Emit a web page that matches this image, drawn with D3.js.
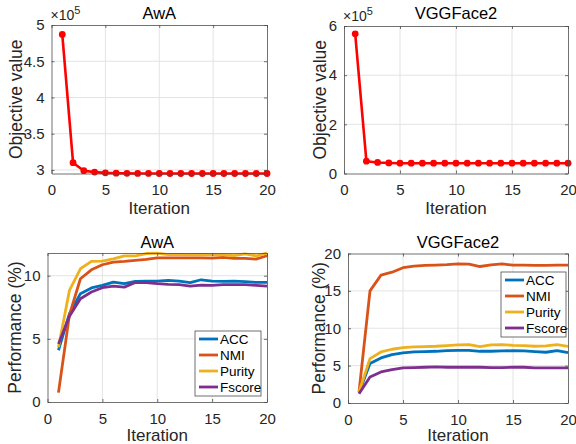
<!DOCTYPE html>
<html>
<head>
<meta charset="utf-8">
<script src="https://cdn.jsdelivr.net/npm/d3@7"></script>
<style>
  body { margin: 0; background: #fff; }
  svg { display: block; font-family: "Liberation Sans", Arial, sans-serif; }
</style>
</head>
<body>
<svg id="fig" width="576" height="444"></svg>
<script>
const iterations = d3.range(1, 21);

// objective values (x1e5)
const objAwA = [4.87, 3.10, 2.99, 2.97, 2.96, 2.955, 2.953, 2.952, 2.952, 2.951, 2.951, 2.951, 2.951, 2.951, 2.951, 2.951, 2.951, 2.951, 2.951, 2.951];
const objVGG = [5.68, 0.50, 0.45, 0.43, 0.42, 0.42, 0.42, 0.42, 0.42, 0.42, 0.42, 0.42, 0.42, 0.42, 0.42, 0.42, 0.42, 0.42, 0.42, 0.42];

// performance (%)
const metricNames = ["ACC", "NMI", "Purity", "Fscore"];
const metricColors = ["#0072BD", "#D95319", "#EDB120", "#7E2F8E"];

const awaACC = [4.1, 7.0, 8.58, 9.03, 9.24, 9.5, 9.37, 9.55, 9.58, 9.58, 9.63, 9.58, 9.45, 9.68, 9.58, 9.55, 9.58, 9.53, 9.47, 9.47];
const awaNMI = [0.74, 6.9, 9.76, 10.47, 10.87, 11.08, 11.13, 11.21, 11.29, 11.42, 11.42, 11.42, 11.42, 11.42, 11.4, 11.45, 11.37, 11.37, 11.32, 11.58];
const awaPurity = [4.34, 8.84, 10.55, 11.13, 11.16, 11.34, 11.58, 11.58, 11.76, 11.79, 11.68, 11.68, 11.66, 11.68, 11.66, 11.66, 11.6, 11.74, 11.58, 11.79];
const awaFscore = [4.6, 6.8, 8.18, 8.71, 9.05, 9.18, 9.1, 9.47, 9.45, 9.37, 9.32, 9.29, 9.18, 9.26, 9.24, 9.29, 9.29, 9.29, 9.24, 9.18];

const vggACC = [1.38, 5.27, 6.03, 6.47, 6.7, 6.83, 6.88, 6.92, 7.0, 7.05, 7.05, 6.92, 6.92, 6.96, 7.0, 6.96, 6.88, 6.79, 7.0, 6.74];
const vggNMI = [1.47, 15.0, 17.1, 17.5, 18.1, 18.3, 18.4, 18.44, 18.5, 18.6, 18.57, 18.26, 18.48, 18.6, 18.44, 18.44, 18.4, 18.4, 18.44, 18.44];
const vggPurity = [1.47, 5.94, 6.83, 7.19, 7.41, 7.5, 7.54, 7.59, 7.68, 7.77, 7.81, 7.54, 7.77, 7.81, 7.72, 7.68, 7.59, 7.63, 7.81, 7.59];
const vggFscore = [1.25, 3.48, 4.15, 4.46, 4.69, 4.73, 4.78, 4.82, 4.78, 4.78, 4.78, 4.78, 4.73, 4.73, 4.78, 4.78, 4.69, 4.69, 4.69, 4.69];

const xTicks = [0, 5, 10, 15, 20];

const svg = d3.select("#fig");
const axisColor = "#4d4d4d";
const gridColor = "#e3e3e3";
const fmt = d3.format("~g");

function drawPanel(p) {
  const x = d3.scaleLinear().domain([0, 20]).range([p.left, p.right]);
  const y = d3.scaleLinear().domain(p.yDomain).range([p.bottom, p.top]);
  const g = svg.append("g");

  // grid
  g.append("g").selectAll("line").data(xTicks.filter(t => t > 0 && t < 20)).enter().append("line")
    .attr("x1", d => x(d)).attr("x2", d => x(d))
    .attr("y1", p.top).attr("y2", p.bottom)
    .attr("stroke", gridColor).attr("stroke-width", 1);
  g.append("g").selectAll("line").data(p.yTicks.filter(t => y(t) > p.top + 1 && y(t) < p.bottom - 1)).enter().append("line")
    .attr("x1", p.left).attr("x2", p.right)
    .attr("y1", d => y(d)).attr("y2", d => y(d))
    .attr("stroke", gridColor).attr("stroke-width", 1);

  // series
  const line = d3.line().x((d, i) => x(iterations[i])).y(d => y(d));
  p.series.forEach(s => {
    g.append("path").datum(s.values)
      .attr("d", line)
      .attr("fill", "none")
      .attr("stroke", s.color)
      .attr("stroke-width", s.width)
      .attr("stroke-linejoin", "round");
    if (s.marker) {
      g.append("g").selectAll("circle").data(s.values).enter().append("circle")
        .attr("cx", (d, i) => x(iterations[i]))
        .attr("cy", d => y(d))
        .attr("r", 3.4)
        .attr("fill", s.color);
    }
  });

  // axes (inward ticks, box)
  const xb = g.append("g").attr("transform", `translate(0,${p.bottom})`)
    .call(d3.axisBottom(x).tickValues(xTicks).tickFormat(fmt).tickSizeInner(-3).tickSizeOuter(0).tickPadding(8));
  g.append("g").attr("transform", `translate(${p.left},0)`)
    .call(d3.axisLeft(y).tickValues(p.yTicks).tickFormat(fmt).tickSizeInner(-3).tickSizeOuter(0).tickPadding(7));
  g.append("g").attr("transform", `translate(0,${p.top})`)
    .call(d3.axisTop(x).tickValues(xTicks).tickSizeInner(-3).tickSizeOuter(0).tickFormat(""));
  g.append("g").attr("transform", `translate(${p.right},0)`)
    .call(d3.axisRight(y).tickValues(p.yTicks).tickSizeInner(-3).tickSizeOuter(0).tickFormat(""));
  g.selectAll(".domain, .tick line").attr("stroke", axisColor).attr("stroke-width", 0.8);
  g.selectAll(".tick text").attr("fill", "#262626").attr("font-size", 15)
    .attr("font-family", "'Liberation Sans', Arial, sans-serif");
  xb.selectAll(".tick text").attr("dy", "0.9em");

  // title and labels
  const cx = (p.left + p.right) / 2;
  g.append("text").attr("x", cx).attr("y", p.titleY).attr("text-anchor", "middle")
    .attr("font-size", 16.5).attr("fill", "#000").text(p.title);
  g.append("text").attr("x", cx).attr("y", p.xLabelY).attr("text-anchor", "middle")
    .attr("font-size", 17).attr("fill", "#262626").text("Iteration");
  g.append("text").attr("transform", `translate(${p.yLabelX},${(p.top + p.bottom) / 2}) rotate(-90)`)
    .attr("text-anchor", "middle").attr("dy", "0.35em")
    .attr("font-size", 17.5).attr("fill", "#262626").text(p.yLabel);

  if (p.exponent) {
    const t = g.append("text").attr("x", p.left - 1).attr("y", p.top - 5)
      .attr("font-size", 14).attr("fill", "#262626");
    t.append("tspan").text("\u00d710");
    t.append("tspan").attr("font-size", 11).attr("dy", -6).text(p.exponent);
  }

  if (p.legend) {
    const L = p.legend;
    const lg = g.append("g");
    lg.append("rect").attr("x", L.x).attr("y", L.y).attr("width", L.w).attr("height", L.h)
      .attr("fill", "#fff").attr("stroke", axisColor).attr("stroke-width", 0.8);
    p.series.forEach((s, i) => {
      const yy = L.y + 8 + i * 16;
      lg.append("line").attr("x1", L.x + 4).attr("x2", L.x + 23)
        .attr("y1", yy).attr("y2", yy)
        .attr("stroke", s.color).attr("stroke-width", 2.8);
      lg.append("text").attr("x", L.x + 25).attr("y", yy).attr("dy", "0.36em")
        .attr("font-size", 13.5).attr("fill", "#000").text(s.name);
    });
  }
}

const perfSeries = (arrs) => arrs.map((v, i) => ({ name: metricNames[i], color: metricColors[i], values: v, width: 2.8 }));

drawPanel({
  left: 51.5, right: 267, top: 25, bottom: 173.5,
  yDomain: [2.951, 5], yTicks: [3, 3.5, 4, 4.5, 5],
  title: "AwA", titleY: 19, xLabelY: 214, yLabelX: 16, yLabel: "Objective value",
  exponent: "5",
  series: [{ color: "#ff0000", values: objAwA, width: 2.6, marker: true }]
});

drawPanel({
  left: 344, right: 568, top: 26, bottom: 173.5,
  yDomain: [0, 6], yTicks: [0, 2, 4, 6],
  title: "VGGFace2", titleY: 19, xLabelY: 214, yLabelX: 320, yLabel: "Objective value",
  exponent: "5",
  series: [{ color: "#ff0000", values: objVGG, width: 2.6, marker: true }]
});

drawPanel({
  left: 47.5, right: 267, top: 253, bottom: 402,
  yDomain: [0, 11.8], yTicks: [0, 5, 10],
  title: "AwA", titleY: 248, xLabelY: 441, yLabelX: 15, yLabel: "Performance (%)",
  series: perfSeries([awaACC, awaNMI, awaPurity, awaFscore]),
  legend: { x: 195, y: 331, w: 66, h: 65 }
});

drawPanel({
  left: 348, right: 568, top: 253.5, bottom: 403,
  yDomain: [0, 20], yTicks: [0, 5, 10, 15, 20],
  title: "VGGFace2", titleY: 248, xLabelY: 441, yLabelX: 319, yLabel: "Performance (%)",
  series: perfSeries([vggACC, vggNMI, vggPurity, vggFscore]),
  legend: { x: 501, y: 272, w: 65, h: 65 }
});
</script>
</body>
</html>
